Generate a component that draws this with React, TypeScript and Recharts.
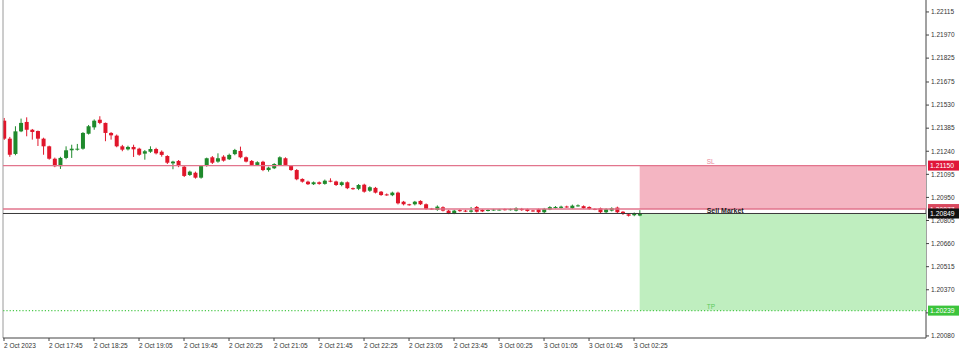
import { Bar, ComposedChart, ReferenceArea, ReferenceLine, XAxis, YAxis } from "recharts";

// M5 candles, [open, high, low, close], 2 Oct 17:05 -> 3 Oct 02:30
const ohlc: [number, number, number, number][] = [
  [1.21432, 1.21449, 1.21311, 1.21319],
  [1.21319, 1.2133, 1.21205, 1.21218],
  [1.21223, 1.21397, 1.21215, 1.21365],
  [1.21365, 1.21445, 1.2136, 1.21418],
  [1.21424, 1.21453, 1.21334, 1.21375],
  [1.21375, 1.2138, 1.21313, 1.21361],
  [1.21367, 1.2137, 1.21273, 1.21319],
  [1.21319, 1.21325, 1.21218, 1.21271],
  [1.21271, 1.21275, 1.21187, 1.21193],
  [1.21193, 1.212, 1.2114, 1.21146],
  [1.21146, 1.21205, 1.21129, 1.21198],
  [1.21198, 1.21271, 1.2119, 1.21246],
  [1.21246, 1.21281, 1.21198, 1.21256],
  [1.2125, 1.21286, 1.21244, 1.21256],
  [1.21256, 1.2136, 1.2125, 1.21355],
  [1.2135, 1.21405, 1.21345, 1.21397],
  [1.2139, 1.2144, 1.21375, 1.21432],
  [1.21438, 1.2146, 1.2141, 1.21418],
  [1.21418, 1.2142, 1.21303, 1.21355],
  [1.21355, 1.2136, 1.21313, 1.2134],
  [1.21338, 1.21345, 1.21265, 1.21271],
  [1.21271, 1.2128, 1.2124, 1.2125],
  [1.21252, 1.21275, 1.21245, 1.21267],
  [1.21267, 1.21281, 1.21204, 1.21252],
  [1.21256, 1.21262, 1.21212, 1.21218],
  [1.21225, 1.21248, 1.21187, 1.2124],
  [1.21237, 1.21271, 1.2123, 1.21254],
  [1.21254, 1.21262, 1.2122, 1.21227],
  [1.21237, 1.21245, 1.21206, 1.21217],
  [1.2121, 1.21215, 1.2116, 1.21168],
  [1.21164, 1.2118, 1.21127, 1.21175],
  [1.21179, 1.21185, 1.2114, 1.21147],
  [1.21143, 1.2115, 1.21078, 1.21085],
  [1.21091, 1.21118, 1.21085, 1.21112],
  [1.21105, 1.21112, 1.21068, 1.21074],
  [1.21074, 1.21152, 1.21068, 1.21147],
  [1.2115, 1.212, 1.21143, 1.21196],
  [1.21202, 1.2121, 1.2116, 1.21168],
  [1.21175, 1.21227, 1.21168, 1.21196],
  [1.21206, 1.21215, 1.21175, 1.21181],
  [1.2119, 1.21225, 1.21185, 1.21217],
  [1.21222, 1.21255, 1.21215, 1.21248],
  [1.21242, 1.21269, 1.21196, 1.21202],
  [1.21202, 1.21207, 1.2117, 1.21175],
  [1.21179, 1.21185, 1.21148, 1.21154],
  [1.21154, 1.21177, 1.2115, 1.21171],
  [1.21174, 1.2118, 1.21115, 1.21122],
  [1.21122, 1.21143, 1.21112, 1.21137],
  [1.21133, 1.21165, 1.21128, 1.2116],
  [1.21154, 1.21208, 1.21148, 1.21202],
  [1.21196, 1.21202, 1.21148, 1.21154],
  [1.21147, 1.21152, 1.21117, 1.21122],
  [1.21122, 1.21128, 1.21058, 1.21064],
  [1.21066, 1.2107, 1.21043, 1.21049],
  [1.21049, 1.21055, 1.21028, 1.21033],
  [1.21033, 1.2105, 1.21028, 1.21045],
  [1.21045, 1.2105, 1.2103, 1.21035],
  [1.21035, 1.21062, 1.2103, 1.21055],
  [1.21055, 1.2107, 1.21045, 1.2105],
  [1.2105, 1.21055, 1.21022, 1.21028],
  [1.21028, 1.2105, 1.2102, 1.21045],
  [1.21045, 1.2105, 1.21002, 1.21008],
  [1.21008, 1.21012, 1.20998, 1.21004],
  [1.21004, 1.21034, 1.20996, 1.21028],
  [1.2103, 1.21036, 1.2098, 1.20986],
  [1.20992, 1.2102, 1.20985, 1.21014],
  [1.2101, 1.21016, 1.20975, 1.2098],
  [1.20986, 1.2099, 1.2096, 1.20965],
  [1.20969, 1.20975, 1.2096, 1.20966],
  [1.20964, 1.20986, 1.20958, 1.2098],
  [1.2098, 1.20986, 1.20906, 1.20913],
  [1.20923, 1.20928, 1.209, 1.20907],
  [1.20907, 1.2091, 1.20898, 1.20904],
  [1.20907, 1.20928, 1.209, 1.20923],
  [1.20928, 1.20932, 1.20902, 1.20907],
  [1.20907, 1.20912, 1.20872, 1.20877],
  [1.2088, 1.20884, 1.20872, 1.20877],
  [1.20871, 1.209, 1.20866, 1.20892],
  [1.20888, 1.20894, 1.20862, 1.20867],
  [1.20867, 1.20872, 1.20845, 1.2085],
  [1.2085, 1.20872, 1.20845, 1.20867],
  [1.2087, 1.20876, 1.2086, 1.20865],
  [1.20867, 1.20872, 1.20858, 1.20864],
  [1.2086, 1.2089, 1.20855, 1.20868],
  [1.2089, 1.20896, 1.20855, 1.2086],
  [1.20872, 1.20876, 1.20858, 1.20862],
  [1.20866, 1.20876, 1.20862, 1.20871],
  [1.2087, 1.20878, 1.20866, 1.20874],
  [1.20872, 1.20878, 1.20868, 1.20874],
  [1.20876, 1.2088, 1.20868, 1.20872],
  [1.20872, 1.2088, 1.20868, 1.20876],
  [1.20867, 1.20888, 1.20862, 1.20882],
  [1.20878, 1.20884, 1.20866, 1.2087],
  [1.20876, 1.2088, 1.2086, 1.20865],
  [1.20868, 1.20872, 1.2086, 1.20865],
  [1.20876, 1.2088, 1.20852, 1.20857],
  [1.20857, 1.20884, 1.20852, 1.20878],
  [1.20874, 1.20895, 1.2087, 1.20889],
  [1.20884, 1.20896, 1.2088, 1.2089],
  [1.20884, 1.20898, 1.2088, 1.20892],
  [1.20893, 1.20898, 1.20885, 1.2089],
  [1.20882, 1.20905, 1.20878, 1.20898],
  [1.20897, 1.20906, 1.20892, 1.209],
  [1.20895, 1.209, 1.20878, 1.20882],
  [1.2089, 1.20894, 1.20872, 1.20877],
  [1.20878, 1.20882, 1.2087, 1.20875],
  [1.20882, 1.20886, 1.20852, 1.20857],
  [1.20857, 1.20882, 1.20852, 1.20876],
  [1.20867, 1.20888, 1.20862, 1.20882],
  [1.20886, 1.20892, 1.20852, 1.20857],
  [1.2086, 1.20864, 1.2084, 1.20846],
  [1.20844, 1.20848, 1.2083, 1.20835],
  [1.20838, 1.20855, 1.20832, 1.2085],
  [1.20836, 1.2087, 1.20832, 1.20849],
];

const timeLabels = [
  "2 Oct 2023",
  "2 Oct 17:45",
  "2 Oct 18:25",
  "2 Oct 19:05",
  "2 Oct 19:45",
  "2 Oct 20:25",
  "2 Oct 21:05",
  "2 Oct 21:45",
  "2 Oct 22:25",
  "2 Oct 23:05",
  "2 Oct 23:45",
  "3 Oct 00:25",
  "3 Oct 01:05",
  "3 Oct 01:45",
  "3 Oct 02:25",
];
const timeTicks = [0, 8, 16, 24, 32, 40, 48, 56, 64, 72, 80, 88, 96, 104, 112];

const priceTicks = [
  1.22115, 1.2197, 1.21825, 1.21675, 1.2153, 1.21385, 1.2124, 1.21095, 1.2095,
  1.20805, 1.2066, 1.20515, 1.2037, 1.20225, 1.2008,
];

const stopLoss = 1.2115;
const entryPrice = 1.20877;
const bidPrice = 1.20849;
const takeProfit = 1.20239;
const entryBar = 113;

const X_DOMAIN: [number, number] = [-0.18, 163.9];
const Y_DOMAIN: [number, number] = [1.20067, 1.2219];

const FONT = "'Liberation Sans', Arial, sans-serif";
const UP = "#1f8a2c";
const DOWN = "#e0162b";
const LEVEL_RED = "#e2758d";

const rows = ohlc.map(([o, h, l, c], i) => ({ i, o, h, l, c }));

const Candle = (props: any) => {
  const { x, y, width, height, payload } = props;
  if (x == null || y == null) return null;
  const { o, h, l, c } = payload;
  const color = c >= o ? UP : DOWN;
  const top = Math.min(y, y + height);
  const span = Math.abs(height);
  const ratio = h === l ? 0 : span / (h - l);
  const bodyTop = top + (h - Math.max(o, c)) * ratio;
  const bodyH = Math.max(1, Math.abs(o - c) * ratio);
  const cx = x + width / 2;
  return (
    <g>
      <line x1={cx} x2={cx} y1={top} y2={top + Math.max(span, 1)} stroke={color} strokeWidth={1} />
      <rect x={x} y={bodyTop} width={width} height={bodyH} fill={color} />
    </g>
  );
};

const TimeTick = ({ x, y, payload }: any) => {
  const idx = timeTicks.indexOf(payload.value);
  return (
    <text x={x} y={y + 4.5} fontSize={6.5} fill="#333" fontFamily={FONT} textAnchor="start">
      {timeLabels[idx]}
    </text>
  );
};

const PriceTick = ({ x, y, payload }: any) => (
  <text x={x} y={y + 2.3} fontSize={6.5} fill="#333" fontFamily={FONT} textAnchor="start">
    {Number(payload.value).toFixed(5)}
  </text>
);

const PriceTag = ({ viewBox, text, fill }: any) => {
  if (!viewBox) return null;
  const x = viewBox.x + viewBox.width + 2;
  const y = viewBox.y;
  return (
    <g>
      <rect x={x} y={y - 5} width={31} height={10} fill={fill} />
      <text x={x + 2} y={y + 2.5} fontSize={6.8} fill="#fff" fontFamily={FONT}>
        {text}
      </text>
    </g>
  );
};

const AreaText = ({ viewBox, text, color, at }: any) => {
  if (!viewBox) return null;
  const y = at === "top" ? viewBox.y - 1.5 : viewBox.y + viewBox.height - 1.5;
  return (
    <text x={viewBox.x + 67} y={y} fontSize={6.5} fill={color} fontFamily={FONT}>
      {text}
    </text>
  );
};

const MarketText = ({ viewBox }: any) => {
  if (!viewBox) return null;
  return (
    <text
      x={viewBox.x + 67}
      y={viewBox.y - 0.8}
      fontSize={7}
      fontWeight={600}
      fill="#222"
      fontFamily={FONT}
    >
      Sell Market
    </text>
  );
};

export default function App() {
  return (
    <div style={{ width: 960, height: 354, background: "#fff" }}>
      <style>{"body{margin:0}"}</style>
      <ComposedChart
        width={960}
        height={354}
        data={rows}
        margin={{ top: 0, right: 0, bottom: 0, left: 3 }}
      >
        <XAxis
          dataKey="i"
          type="number"
          domain={X_DOMAIN}
          allowDataOverflow
          ticks={timeTicks}
          interval={0}
          height={16}
          tickSize={3}
          axisLine={{ stroke: "#444" }}
          tickLine={{ stroke: "#444" }}
          tick={<TimeTick />}
        />
        <YAxis
          orientation="right"
          domain={Y_DOMAIN}
          allowDataOverflow
          ticks={priceTicks}
          interval={0}
          width={34}
          tickSize={3}
          tickMargin={2}
          axisLine={{ stroke: "#444" }}
          tickLine={{ stroke: "#444" }}
          tick={<PriceTick />}
          zIndex={100}
        />
        <ReferenceArea
          x1={entryBar}
          x2={X_DOMAIN[1]}
          y1={entryPrice}
          y2={stopLoss}
          fill="#f4b5c2"
          fillOpacity={1}
          stroke="none"
          label={<AreaText text="SL" color="#e8879b" at="top" />}
        />
        <ReferenceArea
          x1={entryBar}
          x2={X_DOMAIN[1]}
          y1={takeProfit}
          y2={bidPrice}
          fill="#bfeebf"
          fillOpacity={1}
          stroke="none"
          label={<AreaText text="TP" color="#5cc95c" at="bottom" />}
        />
        <ReferenceLine x={X_DOMAIN[0]} stroke="#9a9a9a" />
        <ReferenceLine
          y={stopLoss}
          stroke={LEVEL_RED}
          strokeWidth={1.4}
          zIndex={2500}
          label={<PriceTag text="1.21150" fill="#e0163a" />}
        />
        <ReferenceLine
          y={takeProfit}
          stroke="#4cc94c"
          strokeWidth={1.2}
          strokeDasharray="1.2 2"
          zIndex={2500}
          label={<PriceTag text="1.20239" fill="#3cc43c" />}
        />
        <ReferenceLine
          y={entryPrice}
          stroke={LEVEL_RED}
          strokeWidth={1.4}
          zIndex={2500}
          label={<PriceTag text="1.20877" fill="#d9485e" />}
        />
        <ReferenceLine
          y={bidPrice}
          stroke="#3a3a3a"
          strokeWidth={1}
          zIndex={2600}
          label={<PriceTag text="1.20849" fill="#111" />}
        />
        <ReferenceArea
          x1={entryBar}
          x2={X_DOMAIN[1]}
          y1={bidPrice}
          y2={bidPrice}
          fillOpacity={0}
          stroke="none"
          zIndex={2700}
          label={<MarketText />}
        />
        <Bar
          dataKey={(d: any) => [d.l, d.h]}
          barSize={4}
          shape={<Candle />}
          isAnimationActive={false}
        />
      </ComposedChart>
    </div>
  );
}
